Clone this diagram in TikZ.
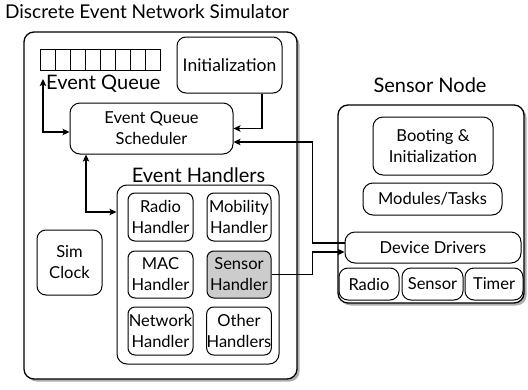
\documentclass[tikz,border=0pt]{standalone}
\usepackage{fontspec}
\setmainfont{Lato}
\usetikzlibrary{arrows.meta,shadows,calc}
\begin{document}
\begin{tikzpicture}[x=1pt,y=-1pt,
  box/.style={draw,line width=1pt,rounded corners=7pt,inner sep=0pt,align=center,font=\fontsize{16.5}{21}\selectfont},
  outer/.style={draw,line width=1.3pt,rounded corners=10pt,fill=white,
    drop shadow={shadow xshift=2.5pt,shadow yshift=-2.5pt,opacity=0.45,fill=black!70}},
  cell/.style={draw,line width=0.8pt,minimum width=15pt,minimum height=21pt,inner sep=0pt},
  lbl/.style={inner sep=0pt,font=\fontsize{20}{22}\selectfont},
  conn/.style={line width=1.7pt,-{Stealth[length=7pt,width=6.5pt,inset=1.5pt]}},
  conn2/.style={line width=1.7pt,{Stealth[length=7pt,width=6.5pt,inset=1.5pt]}-{Stealth[length=7pt,width=6.5pt,inset=1.5pt]}},
]
\useasboundingbox (0,0) rectangle (528,389);
\node[lbl,font=\fontsize{19}{22}\selectfont] (title) at (147,12) {Discrete Event Network Simulator};
\node[outer,minimum width=273pt,minimum height=347pt] (sim) at (160.5,205.5) {};
\node[lbl] (snlbl) at (430,85) {Sensor Node};
\node[outer,minimum width=186pt,minimum height=198pt] (sn) at (431,204) {};
% event queue
\foreach \i in {1,...,8}{\node[cell] (c\i) at (32.5+15*\i,59.5) {};}
\node[lbl,anchor=west] (eql) at (46,84) {Event Queue};
\node[box,minimum width=105pt,minimum height=56pt,rounded corners=9pt,font=\fontsize{17.5}{21}\selectfont] (init) at (229.5,65) {Initialization};
\node[box,minimum width=163pt,minimum height=51pt,rounded corners=10pt] (sched) at (151.5,128.5) {Event Queue\\Scheduler};
\node[lbl] (ehl) at (198.5,175) {Event Handlers};
\node[box,minimum width=162pt,minimum height=179pt,rounded corners=10pt] (cont) at (198,274.5) {};
\node[box,minimum width=65pt,minimum height=48pt] (rh) at (160.5,217) {Radio\\Handler};
\node[box,minimum width=64pt,minimum height=48pt] (mh) at (239,217) {Mobility\\Handler};
\node[box,minimum width=65pt,minimum height=47pt] (mac) at (160.5,274.5) {MAC\\Handler};
\node[box,minimum width=64pt,minimum height=47pt,fill=black!20] (sh) at (239,274.5) {Sensor\\Handler};
\node[box,minimum width=65pt,minimum height=48pt] (nh) at (160.5,331) {Network\\Handler};
\node[box,minimum width=64pt,minimum height=48pt] (oh) at (239,331) {Other\\Handlers};
\node[box,minimum width=65pt,minimum height=65pt,rounded corners=9pt] (clk) at (69.5,262.5) {Sim\\Clock};
% sensor node
\node[box,minimum width=120pt,minimum height=58pt,rounded corners=10pt] (boot) at (433,146) {Booting \&\\Initialization};
\node[box,minimum width=139pt,minimum height=32pt,rounded corners=10pt] (mod) at (432.5,199) {Modules/Tasks};
\node[box,minimum width=176pt,minimum height=31pt,rounded corners=10pt] (dd) at (433,247.5) {Device Drivers};
\node[box,minimum width=60pt,minimum height=32pt,rounded corners=9pt] (rad) at (369,284) {Radio};
\node[box,minimum width=61pt,minimum height=32pt,rounded corners=9pt] (sen) at (432.5,284) {Sensor};
\node[box,minimum width=58pt,minimum height=32pt,rounded corners=9pt] (tim) at (494,284) {Timer};
% connectors
\coordinate (qa) at (43,79);
\draw[conn2] (qa) |- ([yshift=-3.5pt]sched.west);
\draw[conn] ([xshift=32.5pt]init.south) |- (sched.east);
\draw[conn2] ([xshift=-65.5pt]sched.south) |- ([yshift=62.5pt]cont.west);
\draw[conn] ([yshift=4.5pt]dd.west) -- ++(-32pt,0) |- ([yshift=-13.5pt]sched.east);
\draw[conn] (sh.east) -| ([xshift=-32pt,yshift=-4.5pt]dd.west) -- ([yshift=-4.5pt]dd.west);
\end{tikzpicture}
\end{document}
